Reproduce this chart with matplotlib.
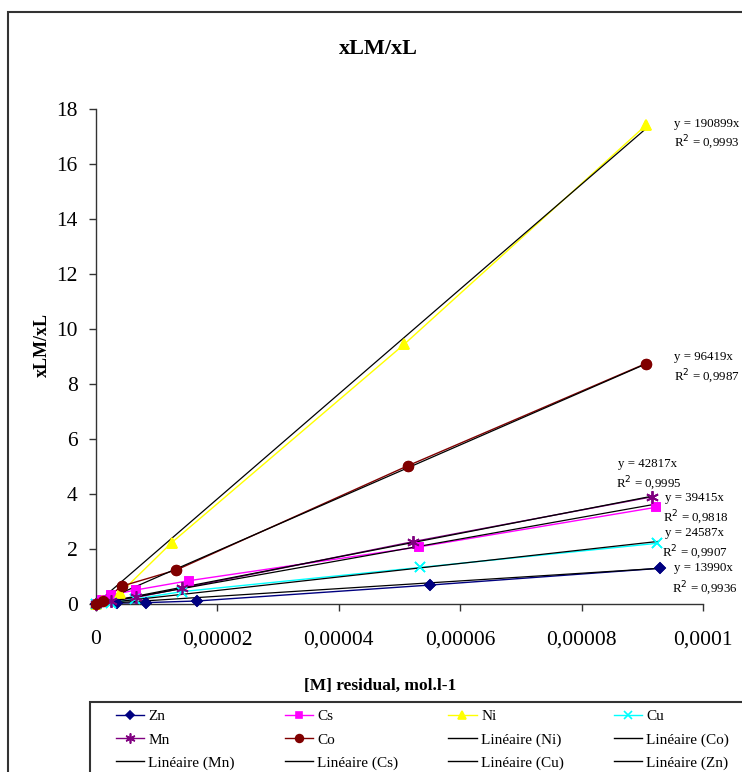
import matplotlib
matplotlib.use("Agg")
import matplotlib.pyplot as plt
from matplotlib.lines import Line2D
from matplotlib.patches import Rectangle

# Measured points for each metal: [M] residual (x) and xLM/xL (y)
zn_x = [0, 3.5e-6, 8.3e-6, 1.67e-5, 5.51e-5, 9.30e-5]
zn_y = [0, 0.03, 0.05, 0.11, 0.69, 1.30]
cs_x = [0, 1.0e-6, 2.6e-6, 6.6e-6, 1.54e-5, 5.33e-5, 9.23e-5]
cs_y = [0, 0.15, 0.33, 0.51, 0.85, 2.08, 3.52]
ni_x = [0, 1.0e-6, 4.0e-6, 1.25e-5, 5.08e-5, 9.06e-5]
ni_y = [0, 0.12, 0.39, 2.23, 9.45, 17.42]
cu_x = [0, 2.5e-6, 6.5e-6, 1.42e-5, 5.34e-5, 9.25e-5]
cu_y = [0, 0.05, 0.18, 0.45, 1.33, 2.21]
mn_x = [0, 2.5e-6, 6.6e-6, 1.42e-5, 5.23e-5, 9.16e-5]
mn_y = [0, 0.10, 0.24, 0.57, 2.27, 3.90]
co_x = [0, 1.2e-6, 4.3e-6, 1.33e-5, 5.14e-5, 9.06e-5]
co_y = [0, 0.12, 0.65, 1.24, 5.03, 8.75]

# Linear trendlines through the origin (Excel "Linéaire")
slopes = {"Ni": 190899, "Co": 96419, "Mn": 42817, "Cs": 39415, "Cu": 24587, "Zn": 13990}
r2 = {"Ni": "0,9993", "Co": "0,9987", "Mn": "0,9995", "Cs": "0,9818", "Cu": "0,9907", "Zn": "0,9936"}

x_ticks = [0, 0.00002, 0.00004, 0.00006, 0.00008, 0.0001]
x_tick_labels = ["0", "0,00002", "0,00004", "0,00006", "0,00008", "0,0001"]
y_ticks = [0, 2, 4, 6, 8, 10, 12, 14, 16, 18]

serif = "Liberation Serif"

fig = plt.figure(figsize=(7.42, 7.72), dpi=100)
ax = fig.add_axes([95.7 / 742, 1 - 604 / 772, (703 - 95.7) / 742, (604 - 109.3) / 772])

series = [
    ("Zn", zn_x, zn_y, "#000080", "D", 5.5),
    ("Cs", cs_x, cs_y, "#FF00FF", "s", 6),
    ("Ni", ni_x, ni_y, "#FFFF00", "^", 7.5),
    ("Cu", cu_x, cu_y, "#00FFFF", "x", 7),
    ("Mn", mn_x, mn_y, "#800080", (6, 2, 0), 9),
    ("Co", co_x, co_y, "#800000", "o", 7),
]

handles = {}
for name, xs, ys, color, marker, ms in series:
    h, = ax.plot(xs, ys, color=color, lw=1, marker=marker, ms=ms,
                 mec=color, mfc=color, mew=1.2, zorder=2, clip_on=False)
    handles[name] = h

# black trendlines from 0 to the last point of each series
for name, xs, ys, color, marker, ms in series:
    xmax = max(xs)
    ax.plot([0, xmax], [0, slopes[name] * xmax], color="black", lw=0.9, zorder=3)

# markers again on top of the trendlines
for name, xs, ys, color, marker, ms in series:
    ax.plot(xs, ys, ls="none", marker=marker, ms=ms, mec=color, mfc=color,
            mew=1.2, zorder=4, clip_on=False)

# equation labels on the right
eq_pos = {
    "Ni": (9.52e-5, 17.45, 9.52e-5, 16.76),
    "Co": (9.53e-5, 8.98, 9.53e-5, 8.25),
    "Mn": (8.60e-5, 5.09, 8.57e-5, 4.36),
    "Cs": (9.37e-5, 3.84, 9.34e-5, 3.14),
    "Cu": (9.37e-5, 2.60, 9.33e-5, 1.87),
    "Zn": (9.52e-5, 1.31, 9.49e-5, 0.55),
}
for name, (x1, y1, x2, y2) in eq_pos.items():
    ax.text(x1, y1, "y = %dx" % slopes[name], fontsize=9.3, family=serif,
            va="center", ha="left", clip_on=False)
    ax.text(x2, y2, "R$^2$ = " + r2[name], fontsize=9.3, family=serif,
            va="center", ha="left", clip_on=False)

ax.set_xlim(0, 0.0001)
ax.set_ylim(0, 18)
ax.set_xticks(x_ticks)
ax.set_xticklabels(x_tick_labels)
ax.set_yticks(y_ticks)
for lab in ax.get_xticklabels() + ax.get_yticklabels():
    lab.set_family(serif)
    lab.set_fontsize(15.5)
ax.tick_params(direction="out", length=5, width=1, color="#333333")
ax.tick_params(axis="y", pad=8)
ax.tick_params(axis="x", pad=14)
for side in ["top", "right"]:
    ax.spines[side].set_visible(False)
for side in ["left", "bottom"]:
    ax.spines[side].set_color("#333333")
    ax.spines[side].set_linewidth(1)

# titles
fig.text(378 / 742, 1 - 49 / 772, "xLM/xL", ha="center", va="center",
         fontsize=16, fontweight="bold", family=serif)
fig.text(42 / 742, 1 - 345 / 772, "xLM/xL", ha="center", va="center",
         rotation=90, fontsize=13, fontweight="bold", family=serif)
fig.text(380 / 742, 1 - 686 / 772, "[M] residual, mol.l-1", ha="center",
         va="center", fontsize=12.5, fontweight="bold", family=serif)

# outer chart border and legend box (both run off the image edges)
fig.patches.append(Rectangle((8 / 742, -0.1), 2, (772 - 12) / 772 + 0.1,
                             transform=fig.transFigure, fill=False,
                             lw=1.5, ec="#333333"))
fig.patches.append(Rectangle((90 / 742, -0.1), 2, (772 - 702) / 772 + 0.1,
                             transform=fig.transFigure, fill=False,
                             lw=1.5, ec="#333333"))

# legend, filled column by column so it reads row by row like Excel
lin = lambda: Line2D([], [], color="black", lw=1)
leg_handles = [handles["Zn"], handles["Mn"], lin(),
               handles["Cs"], handles["Co"], lin(),
               handles["Ni"], lin(), lin(),
               handles["Cu"], lin(), lin()]
leg_labels = ["Zn", "Mn", "Linéaire (Mn)",
              "Cs", "Co", "Linéaire (Cs)",
              "Ni", "Linéaire (Ni)", "Linéaire (Cu)",
              "Cu", "Linéaire (Co)", "Linéaire (Zn)"]
fig.legend(leg_handles, leg_labels, ncol=4, loc="upper left",
           bbox_to_anchor=(108 / 742, 1 - 702 / 772), frameon=False,
           borderpad=0, prop={"family": serif, "size": 11},
           handlelength=1.85, handletextpad=0.3, columnspacing=3.25,
           labelspacing=0.62, markerscale=0.8)

fig.savefig("out.png", dpi=100)
